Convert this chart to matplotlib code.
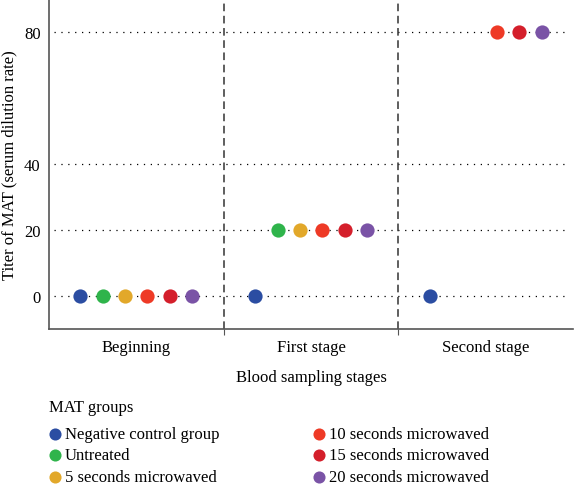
import numpy as np
import matplotlib
matplotlib.use("Agg")
from matplotlib import pyplot as plt

# stages on the x axis
stages = ["Beginning", "First stage", "Second stage"]

# MAT groups and their titers per stage (None = not shown)
groups = ["Negative control group", "Untreated", "5 seconds microwaved",
          "10 seconds microwaved", "15 seconds microwaved", "20 seconds microwaved"]
colors = ["#2b4da2", "#2fb44b", "#e2a82a", "#ee3a26", "#d41f2b", "#7a53a6"]
beginning = [0, 0, 0, 0, 0, 0]
first_stage = [0, 20, 20, 20, 20, 20]
second_stage = [0, None, None, 80, 80, 80]

y_ticks = [0, 20, 40, 80]

plt.rcParams["font.family"] = ["Liberation Serif", "DejaVu Serif"]
plt.rcParams["font.size"] = 12

fig = plt.figure(figsize=(5.75, 4.89), dpi=100)
ax = fig.add_axes([0.085, 0.325, 0.912, 0.675])

values = [beginning, first_stage, second_stage]
offsets = (np.arange(len(groups)) - 2.5) * 0.128

for y in y_ticks:
    ax.axhline(y, xmin=0.01, xmax=0.99, color="black", lw=0.9,
               ls=(0, (1, 4.5)), zorder=1)
for b in [1, 2]:
    ax.axvline(b, color="#333333", lw=1.1, ls=(0, (5, 3)), zorder=1)

for gi, (g, c) in enumerate(zip(groups, colors)):
    xs, ys = [], []
    for si, vals in enumerate(values):
        if vals[gi] is not None:
            xs.append(si + 0.5 + offsets[gi])
            ys.append(vals[gi])
    ax.scatter(xs, ys, s=105, color=c, label=g, zorder=3, linewidths=0)

ax.set_xlim(0, 3)
ax.set_ylim(-10, 90)
ax.set_yticks(y_ticks)
ax.set_xticks([1, 2])
ax.set_xticklabels([])
ax.tick_params(axis="y", length=0, pad=6, labelsize=12)
ax.tick_params(axis="x", length=4, color="#555555")
for i, s in enumerate(stages):
    ax.text(i + 0.5, -13.0, s, ha="center", va="top", fontsize=12)
ax.text(1.5, -22.0, "Blood sampling stages", ha="center", va="top", fontsize=12)
ax.set_ylabel("Titer of MAT (serum dilution rate)", fontsize=12, labelpad=5)

ax.spines["top"].set_visible(False)
ax.spines["right"].set_visible(False)
ax.spines["left"].set_color("#555555")
ax.spines["bottom"].set_color("#555555")
ax.spines["left"].set_linewidth(1.2)
ax.spines["bottom"].set_linewidth(1.2)

fig.text(0.085, 1 - 408 / 489, "MAT groups", ha="left", va="center", fontsize=12)
fig.legend(loc="upper left", bbox_to_anchor=(0.081, 1 - 427 / 489), ncol=2,
           frameon=False, fontsize=12, handletextpad=0.1,
           columnspacing=5.5, labelspacing=0.33, handlelength=1.0,
           borderpad=0, borderaxespad=0, markerscale=0.85)

fig.savefig("out.png", dpi=100)
